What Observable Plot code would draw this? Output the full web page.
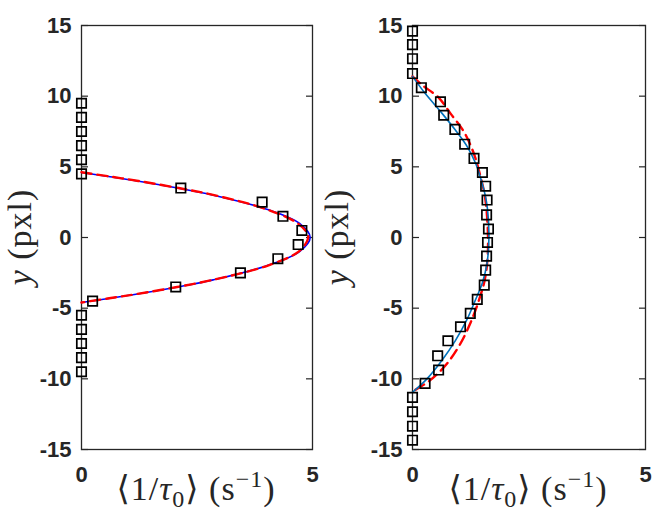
<!DOCTYPE html>
<html>
<head>
<meta charset="utf-8">
<script src="https://cdn.jsdelivr.net/npm/d3@7"></script>
<script src="https://cdn.jsdelivr.net/npm/@observablehq/plot@0.6"></script>
<style>
  html, body { margin: 0; padding: 0; background: #fff; }
  #wrap { display: flex; width: 664px; height: 513px; }
</style>
</head>
<body>
<div id="wrap"></div>
<script>
// ---- tick values ----
const xTicks = [0, 5];
const yTicks = [-15, -10, -5, 0, 5, 10, 15];

// ---- left panel: measured points ----
const leftY = [9.5, 8.5, 7.5, 6.5, 5.5, 4.5, 3.5, 2.5, 1.5, 0.5, -0.5, -1.5, -2.5, -3.5, -4.5, -5.5, -6.5, -7.5, -8.5, -9.5];
const leftX = [0, 0, 0, 0, 0, 0, 2.15, 3.91, 4.36, 4.77, 4.69, 4.25, 3.44, 2.04, 0.24, 0, 0, 0, 0, 0];
// left panel: fit curves
const blueLY = [4.6, 4.3, 4.0, 3.5, 3.0, 2.0, 1.0, 0, -1.0, -2.0, -3.0, -3.5, -4.0, -4.3, -4.6];
const blueLX = [0, 0.62, 1.21, 2.08, 2.85, 4.01, 4.72, 4.95, 4.72, 4.01, 2.85, 2.08, 1.21, 0.62, 0];
const redLY  = [4.62, 4.3, 4.0, 3.5, 3.0, 2.0, 1.0, 0.2, -0.2, -1.0, -2.0, -3.0, -3.5, -4.0, -4.3, -4.6];
const redLX  = [0, 0.64, 1.23, 2.10, 2.87, 4.00, 4.68, 4.90, 4.89, 4.70, 4.02, 2.84, 2.07, 1.20, 0.60, 0];

// ---- right panel: measured points ----
const rightY = [14.6, 13.65, 12.65, 11.6, 10.6, 9.6, 8.65, 7.65, 6.6, 5.6, 4.6, 3.63, 2.65, 1.6, 0.6, -0.35, -1.32, -2.31, -3.37, -4.38, -5.37, -6.32, -7.31, -8.37, -9.38, -10.32, -11.31, -12.33, -13.35, -14.34];
const rightX = [0, 0, 0, 0, 0.19, 0.60, 0.67, 0.91, 1.12, 1.32, 1.50, 1.57, 1.60, 1.59, 1.63, 1.61, 1.59, 1.57, 1.54, 1.39, 1.24, 1.03, 0.76, 0.54, 0.56, 0.27, 0, 0, 0, 0];
// right panel: fit curves
const blueRY = [11.4, 10.2, 8.8, 7.6, 6.4, 5.2, 4.0, 3.0, 2.0, 0, -1.8, -3.2, -4.5, -5.8, -7.3, -8.7, -10.0, -10.95];
const blueRX = [0, 0.27, 0.63, 0.92, 1.18, 1.36, 1.48, 1.56, 1.61, 1.64, 1.60, 1.50, 1.34, 1.17, 0.92, 0.63, 0.31, 0];
const redRY  = [11.4, 10.8, 9.9, 8.8, 7.5, 6.0, 4.8, 3.0, 1.5, 0, -1.5, -3.0, -4.5, -6.0, -7.5, -8.8, -9.7, -10.2, -10.9];
const redRX  = [0, 0.20, 0.56, 0.81, 1.10, 1.31, 1.42, 1.55, 1.60, 1.62, 1.61, 1.55, 1.42, 1.25, 1.03, 0.77, 0.52, 0.34, 0];

const W = 332, H = 513;
const ink = "#262626";
const fmt = d => String(d); // hyphen-minus like the reference

function panel({ml, mr, ptsX, ptsY, bX, bY, rX, rY, blue, redOnTop}) {
  const blueLine = Plot.line(bY, {x: bX, y: bY, stroke: blue, strokeWidth: 1.6, curve: "catmull-rom"});
  const redLine = Plot.line(rY, {x: rX, y: rY, stroke: "#ff0000", strokeWidth: 2.4, strokeDasharray: "10,6", curve: "catmull-rom"});
  return Plot.plot({
    width: W, height: H,
    marginLeft: ml, marginRight: mr, marginTop: 25, marginBottom: 64,
    style: {color: ink, background: "white", overflow: "visible"},
    x: {domain: [0, 5]},
    y: {domain: [-15, 15]},
    marks: [
      Plot.axisY(yTicks, {anchor: "left", tickSize: 0, tickPadding: 10, tickFormat: fmt, fontSize: 22, fontWeight: "bold", fontFamily: "Liberation Sans, Arial, sans-serif", label: null}),
      Plot.axisY(yTicks, {anchor: "left", tickSize: 7, dx: 7, tickFormat: () => "", label: null, strokeWidth: 1.2}),
      Plot.axisY(yTicks, {anchor: "right", tickSize: 7, dx: -7, tickFormat: () => "", label: null, strokeWidth: 1.2}),
      Plot.axisX(xTicks, {anchor: "bottom", tickSize: 0, tickPadding: 17, tickFormat: fmt, fontSize: 22, fontWeight: "bold", fontFamily: "Liberation Sans, Arial, sans-serif", label: null}),
      Plot.frame({stroke: ink, strokeWidth: 1.3}),
      ...(redOnTop ? [blueLine, redLine] : [redLine, blueLine]),
      Plot.dot(ptsY, {x: ptsX, y: ptsY, symbol: "square", r: 5.3, stroke: "black", strokeWidth: 1.7, fill: "none"})
    ]
  });
}

function addLabels(svg, yLabelX, cx) {
  const s = d3.select(svg);
  const serif = "Liberation Serif, DejaVu Serif, serif";
  const yl = s.append("text")
    .attr("transform", `translate(${yLabelX},237) rotate(-90)`)
    .attr("text-anchor", "middle")
    .attr("font-family", serif)
    .attr("font-size", 34)
    .attr("letter-spacing", 1)
    .attr("fill", ink);
  yl.append("tspan").attr("font-style", "italic").text("y");
  yl.append("tspan").text(" (pxl)");

  const xl = s.append("text")
    .attr("x", cx).attr("y", 500)
    .attr("text-anchor", "middle")
    .attr("font-family", serif)
    .attr("font-size", 34)
    .attr("letter-spacing", 1)
    .attr("fill", ink);
  xl.append("tspan").text("⟨1/");
  xl.append("tspan").attr("font-style", "italic").text("τ");
  xl.append("tspan").attr("font-size", 24).attr("dy", 7).text("0");
  xl.append("tspan").attr("dy", -7).text("⟩ (s");
  xl.append("tspan").attr("font-size", 24).attr("dy", -13).text("−1");
  xl.append("tspan").attr("dy", 13).text(")");
}

const wrap = document.getElementById("wrap");
const left = panel({ml: 81, mr: 20, ptsX: leftX, ptsY: leftY, bX: blueLX, bY: blueLY, rX: redLX, rY: redLY, blue: "#0000ff", redOnTop: true});
const right = panel({ml: 80, mr: 19, ptsX: rightX, ptsY: rightY, bX: blueRX, bY: blueRY, rX: redRX, rY: redRY, blue: "#0072bd", redOnTop: false});
addLabels(left, 31, 196);
addLabels(right, 16, 196);
wrap.appendChild(left);
wrap.appendChild(right);
</script>
</body>
</html>
